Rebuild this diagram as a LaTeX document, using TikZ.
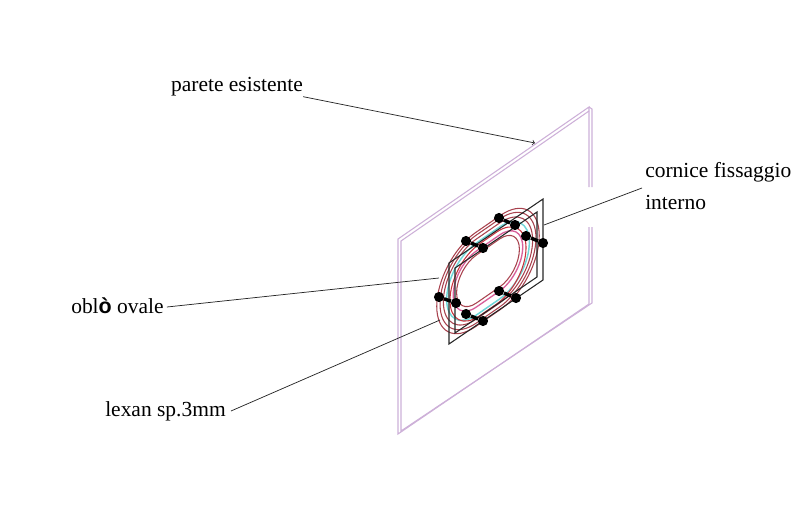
\documentclass[tikz,border=0pt]{standalone}
\usepackage{xcolor}
\usepackage{fontspec}
\setmainfont{Liberation Serif}
\setsansfont{Liberation Sans}
\usepackage{tikz}

\definecolor{wall}{HTML}{CDB0D8}
\definecolor{darkring}{HTML}{A8424E}
\definecolor{redring}{HTML}{C8323C}
\definecolor{pinkring}{HTML}{D8609A}
\definecolor{cyanring}{HTML}{6FD6D8}

\tikzset{
  wallline/.style={wall,line width=0.8pt},
  frameline/.style={black!85,line width=0.8pt},
  leader/.style={black!85,line width=0.55pt},
  label/.style={inner sep=0pt,font=\fontsize{16.1pt}{19pt}\selectfont},
  bolt/.style={shape=circle,fill=black,inner sep=0pt,minimum size=7.6pt}
}

% stadium lying in the plane of the wall
\newcommand{\ovalring}[5]{
  \draw[#1,cm={0.62,0.428,0,-0.75,(488,271)},x=1pt,y=1pt]
    (-#2+#4,-#3+#5) -- (#2-#4,-#3+#5) arc (-90:90:#4) -- (-#2+#4,#3+#5) arc (90:270:#4) -- cycle;
}

\begin{document}
\begin{tikzpicture}[x=0.75pt,y=-0.75pt]
\useasboundingbox (0,0) rectangle (800,518);

\draw[wallline] (589,187) -- (589,107) -- (398,239) -- (398,434) -- (589,304) -- (589,227);
\draw[wallline] (592,187) -- (592,109) -- (589,107);
\draw[wallline] (589,111) -- (401,241) -- (401,431) -- (592,303) -- (592,227);

\ovalring{darkring,line width=0.8pt}{62}{47}{47}{0}
\ovalring{darkring,line width=0.8pt}{58}{44}{44}{0}
\ovalring{darkring,line width=0.8pt}{54}{40}{40}{0}
\ovalring{cyanring,line width=1.1pt}{50}{36}{36}{0}
\ovalring{redring,line width=0.8pt}{46}{36}{36}{3}
\ovalring{pinkring,line width=1pt}{42}{28}{28}{0}
\ovalring{darkring,line width=0.8pt}{38}{24}{24}{0}

\draw[frameline] (449,263) -- (543,199) -- (543,280) -- (449,344) -- cycle;
\draw[frameline] (455,268) -- (537,212) -- (537,277) -- (455,333) -- cycle;

\foreach \name/\xa/\ya/\xb/\yb in {p/466/241/483/248,q/499/218/515/225,r/526/236/543/243,s/439/297/456/303,t/466/314/483/321,u/499/291/516/298}{
  \node (\name a) at (\xa,\ya)[bolt]{};
  \node (\name b) at (\xb,\yb)[bolt]{};
  \draw[line width=2.6pt] (\name a) -- (\name b);
}

\node (parete) at (237,87)[label]{parete esistente};
\node (cornice) at (645,186)[label,anchor=west,align=left]{cornice fissaggio\\[5pt]interno};
\node (oblo) at (71,306)[label,anchor=west]{obl{\sffamily\bfseries ò} ovale};
\node (lexan) at (105,411)[label,anchor=west]{lexan sp.3mm};

\coordinate (pareteend) at (535,143);
\coordinate (corniceend) at (544,225);
\coordinate (obloend) at (439,278);
\coordinate (lexanend) at (440,320);

\draw[leader,->,>=to] (parete.south east) -- (pareteend);
\draw[leader] (cornice.west) ++(-3,2) -- (corniceend);
\draw[leader] (oblo.east) ++(3,1) -- (obloend);
\draw[leader] (lexan.east) ++(5,0) -- (lexanend);

\end{tikzpicture}
\end{document}
